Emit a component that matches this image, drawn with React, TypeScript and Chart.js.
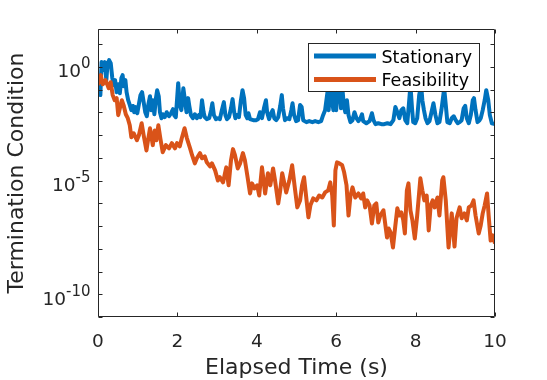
import React, { useEffect, useRef } from 'react';
import Chart from 'chart.js/auto';

// ---- data ----
const seriesNames = ['Stationary', 'Feasibility'];
const xAxisTitle = 'Elapsed Time (s)';
const yAxisTitle = 'Termination Condition';

const xTickValues = [0, 2, 4, 6, 8, 10];
const xTickLabels = ['0', '2', '4', '6', '8', '10'];

const yDecadeTicks = [1e1, 1e0, 1e-1, 1e-2, 1e-3, 1e-4, 1e-5, 1e-6, 1e-7, 1e-8, 1e-9, 1e-10, 1e-11];
const yLabelValues = [1e0, 1e-5, 1e-10];
const yLabelBase = '10';
const yLabelExponents = ['0', '-5', '-10'];

const stationaryTime = [
  0.00, 0.03, 0.06, 0.09, 0.13, 0.17, 0.21, 0.24, 0.28, 0.32,
  0.36, 0.40, 0.43, 0.47, 0.51, 0.55, 0.59, 0.62, 0.65, 0.69,
  0.72, 0.76, 0.80, 0.84, 0.88, 0.91, 0.95, 0.99, 1.03, 1.07,
  1.11, 1.15, 1.19, 1.23, 1.27, 1.31, 1.34, 1.38, 1.42, 1.46,
  1.49, 1.53, 1.56, 1.60, 1.63, 1.68, 1.73, 1.79, 1.84, 1.89,
  1.92, 1.96, 2.02, 2.06, 2.10, 2.15, 2.19, 2.23, 2.27, 2.30,
  2.34, 2.39, 2.44, 2.49, 2.54, 2.58, 2.62, 2.66, 2.69, 2.74,
  2.80, 2.85, 2.88, 2.92, 2.97, 3.02, 3.07, 3.12, 3.17, 3.21,
  3.25, 3.30, 3.35, 3.39, 3.43, 3.46, 3.50, 3.55, 3.60, 3.64,
  3.68, 3.72, 3.76, 3.79, 3.83, 3.91, 3.98, 4.03, 4.08, 4.13,
  4.18, 4.23, 4.26, 4.31, 4.36, 4.40, 4.44, 4.49, 4.54, 4.59,
  4.63, 4.66, 4.71, 4.76, 4.82, 4.87, 4.90, 4.94, 4.99, 5.04,
  5.09, 5.13, 5.17, 5.25, 5.32, 5.40, 5.47, 5.55, 5.62, 5.67,
  5.72, 5.78, 5.81, 5.85, 5.89, 5.93, 5.96, 6.00, 6.04, 6.08,
  6.12, 6.15, 6.19, 6.23, 6.27, 6.31, 6.36, 6.41, 6.46, 6.51,
  6.56, 6.61, 6.65, 6.68, 6.76, 6.84, 6.90, 6.94, 6.99, 7.06,
  7.14, 7.21, 7.29, 7.37, 7.44, 7.49, 7.54, 7.59, 7.64, 7.69,
  7.74, 7.79, 7.83, 7.87, 7.91, 7.94, 7.99, 8.04, 8.09, 8.14,
  8.17, 8.21, 8.25, 8.30, 8.35, 8.40, 8.45, 8.50, 8.55, 8.60,
  8.65, 8.72, 8.76, 8.80, 8.86, 8.91, 8.96, 9.01, 9.06, 9.11,
  9.16, 9.21, 9.25, 9.29, 9.34, 9.39, 9.44, 9.47, 9.51, 9.56,
  9.61, 9.64, 9.69, 9.74, 9.78, 9.83, 9.87, 9.92, 10.00,
];
const stationaryValue = [
  0.094, 0.32, 0.057, 1.61, 0.72, 1.61, 0.26, 1.31, 1.97, 1.46,
  0.32, 0.156, 0.26, 0.077, 0.17, 0.069, 0.32, 0.43, 0.141, 0.26,
  0.077, 0.034, 0.021, 0.0124, 0.019, 0.0101, 0.017, 0.0091, 0.023, 0.057,
  0.077, 0.028, 0.0101, 0.0067, 0.023, 0.051, 0.0124, 0.034, 0.0082, 0.042,
  0.094, 0.051, 0.0101, 0.0055, 0.0082, 0.0061, 0.0101, 0.0067, 0.0091, 0.0137,
  0.0075, 0.0061, 0.19, 0.021, 0.0124, 0.115, 0.034, 0.0101, 0.042, 0.019,
  0.0075, 0.0055, 0.0082, 0.0055, 0.0075, 0.0061, 0.034, 0.0101, 0.0061, 0.0050,
  0.0055, 0.0124, 0.025, 0.0075, 0.0050, 0.0055, 0.0050, 0.0124, 0.028, 0.0075,
  0.0050, 0.0061, 0.015, 0.038, 0.0101, 0.0055, 0.0075, 0.0061, 0.034, 0.094,
  0.042, 0.0075, 0.0055, 0.0091, 0.0050, 0.0045, 0.0045, 0.0050, 0.0101, 0.0055,
  0.015, 0.034, 0.0101, 0.0050, 0.0091, 0.0124, 0.0055, 0.0045, 0.0061, 0.019,
  0.057, 0.015, 0.0045, 0.0055, 0.0050, 0.0124, 0.025, 0.0075, 0.0041, 0.0045,
  0.021, 0.017, 0.0045, 0.0037, 0.0041, 0.0037, 0.0041, 0.0037, 0.0041, 0.0075,
  0.0124, 0.077, 0.0124, 0.156, 0.034, 0.0124, 0.72, 0.0124, 0.43, 0.094,
  0.015, 0.156, 0.021, 0.0101, 0.034, 0.0075, 0.0037, 0.0045, 0.0101, 0.0055,
  0.0041, 0.0055, 0.0082, 0.0041, 0.0033, 0.0041, 0.0091, 0.0045, 0.0030, 0.0033,
  0.0030, 0.0030, 0.0033, 0.0030, 0.0045, 0.017, 0.0101, 0.0055, 0.0124, 0.015,
  0.0045, 0.0033, 0.021, 0.156, 0.015, 0.0037, 0.0033, 0.0055, 0.057, 0.156,
  0.034, 0.0124, 0.0055, 0.0033, 0.0041, 0.0101, 0.025, 0.0075, 0.0033, 0.0037,
  0.0124, 0.115, 0.021, 0.0037, 0.0033, 0.0055, 0.0067, 0.0045, 0.0033, 0.0037,
  0.0045, 0.015, 0.019, 0.0055, 0.0033, 0.0075, 0.034, 0.042, 0.0124, 0.0037,
  0.0045, 0.0055, 0.0124, 0.034, 0.094, 0.034, 0.0075, 0.0033, 0.0030,
];

const feasibilityTime = [
  0.00, 0.04, 0.07, 0.12, 0.19, 0.27, 0.32, 0.37, 0.42, 0.47,
  0.51, 0.55, 0.60, 0.65, 0.70, 0.75, 0.80, 0.84, 0.90, 0.98,
  1.03, 1.10, 1.15, 1.22, 1.26, 1.31, 1.36, 1.38, 1.43, 1.47,
  1.52, 1.57, 1.63, 1.71, 1.79, 1.86, 1.94, 1.99, 2.06, 2.11,
  2.18, 2.24, 2.32, 2.37, 2.44, 2.49, 2.57, 2.62, 2.69, 2.74,
  2.82, 2.87, 2.95, 3.02, 3.07, 3.15, 3.23, 3.29, 3.35, 3.40,
  3.45, 3.52, 3.58, 3.65, 3.70, 3.76, 3.83, 3.88, 3.94, 4.01,
  4.06, 4.13, 4.21, 4.28, 4.34, 4.41, 4.46, 4.54, 4.59, 4.64,
  4.69, 4.74, 4.82, 4.89, 4.95, 5.02, 5.09, 5.14, 5.19, 5.24,
  5.30, 5.35, 5.42, 5.50, 5.57, 5.65, 5.72, 5.80, 5.85, 5.90,
  5.94, 5.98, 6.02, 6.08, 6.15, 6.20, 6.26, 6.31, 6.36, 6.41,
  6.48, 6.56, 6.63, 6.68, 6.73, 6.78, 6.84, 6.90, 6.96, 7.01,
  7.06, 7.11, 7.19, 7.24, 7.28, 7.32, 7.37, 7.43, 7.49, 7.54,
  7.59, 7.64, 7.69, 7.73, 7.78, 7.82, 7.87, 7.92, 7.98, 8.04,
  8.12, 8.17, 8.22, 8.28, 8.33, 8.38, 8.43, 8.48, 8.55, 8.60,
  8.67, 8.70, 8.76, 8.83, 8.91, 8.98, 9.03, 9.11, 9.16, 9.23,
  9.29, 9.34, 9.41, 9.46, 9.51, 9.59, 9.64, 9.69, 9.74, 9.80,
  9.84, 9.89, 9.94, 10.00,
];
const feasibilityValue = [
  0.16, 0.26, 0.43, 0.17, 0.26, 0.115, 0.21, 0.057, 0.034, 0.042,
  0.0075, 0.015, 0.034, 0.019, 0.0082, 0.0055, 0.0027, 8.0e-4, 1.2e-3, 5.9e-4,
  9.8e-4, 3.3e-3, 9.8e-4, 2.1e-4, 5.9e-4, 2.0e-3, 5.9e-4, 3.6e-4, 1.6e-3, 5.9e-4,
  2.7e-3, 7.2e-4, 1.75e-4, 3.6e-4, 2.6e-4, 4.4e-4, 2.6e-4, 4.4e-4, 3.2e-4, 7.2e-4,
  2.0e-3, 7.2e-4, 2.6e-4, 1.3e-4, 5.7e-5, 9.5e-5, 1.6e-4, 9.5e-5, 1.16e-4, 6.3e-5,
  4.2e-5, 5.7e-5, 2.8e-5, 1.0e-5, 1.4e-5, 8.3e-6, 3.8e-5, 6.2e-6, 7.8e-5, 2.4e-4,
  1.3e-4, 3.4e-5, 5.7e-5, 1.6e-4, 7.8e-5, 1.7e-5, 2.7e-6, 7.5e-6, 4.5e-6, 6.2e-6,
  2.2e-6, 3.8e-5, 2.7e-6, 2.1e-5, 6.2e-6, 3.4e-5, 1.0e-5, 9.9e-7, 3.7e-6, 2.1e-5,
  8.3e-6, 3.0e-6, 1.0e-5, 4.7e-5, 6.2e-6, 6.6e-7, 1.34e-6, 6.2e-6, 1.4e-5, 2.2e-6,
  2.4e-7, 8.1e-7, 1.64e-6, 1.34e-6, 2.2e-6, 1.8e-6, 3.0e-6, 3.7e-6, 8.3e-6, 2.2e-6,
  1.06e-7, 2.8e-5, 6.3e-5, 5.7e-5, 4.7e-5, 2.3e-5, 6.2e-6, 2.9e-7, 2.2e-6, 5.0e-6,
  1.8e-6, 2.7e-6, 1.64e-6, 2.7e-6, 6.6e-7, 1.34e-6, 8.1e-7, 1.3e-7, 8.1e-7, 9.9e-7,
  1.44e-7, 2.9e-7, 4.9e-7, 1.06e-7, 3.1e-8, 7.8e-8, 5.2e-8, 1.14e-8, 1.06e-7, 6.0e-7,
  2.9e-7, 4.0e-7, 1.77e-7, 4.7e-8, 3.7e-6, 7.5e-6, 4.9e-7, 1.77e-7, 2.8e-8, 2.9e-7,
  1.25e-5, 3.7e-6, 1.34e-6, 2.2e-6, 6.4e-8, 8.1e-7, 1.34e-6, 6.6e-7, 1.8e-6, 2.9e-7,
  1.0e-5, 1.4e-5, 1.34e-6, 1.14e-8, 3.6e-7, 1.26e-8, 2.2e-7, 6.6e-7, 2.2e-7, 3.6e-7,
  1.77e-7, 6.6e-7, 8.1e-7, 1.34e-6, 2.9e-7, 4.7e-8, 1.06e-7, 3.6e-7, 8.1e-7, 2.7e-6,
  2.9e-7, 2.3e-8, 3.9e-8, 1.7e-8,
];

const seriesColors = ['#0072BD', '#D95319'];
const AXIS_COLOR = '#262626';
const FONT = '"DejaVu Sans", sans-serif';

const toPoints = (t: number[], v: number[]) => {
  const n = Math.min(t.length, v.length);
  const out: { x: number; y: number }[] = [];
  for (let i = 0; i < n; i++) out.push({ x: t[i], y: v[i] });
  return out;
};

const matlabPlugin = {
  id: 'matlabAxes',
  afterDraw(chart: any) {
    const { ctx, chartArea: a, scales } = chart;
    const xs = scales.x;
    const ys = scales.y;
    const L = Math.round(a.left) + 0.5;
    const R = Math.round(a.right) - 0.5;
    const T = Math.round(a.top) + 0.5;
    const B = Math.round(a.bottom) - 0.5;
    const tick = 4;
    ctx.save();
    ctx.strokeStyle = AXIS_COLOR;
    ctx.lineWidth = 1;
    ctx.beginPath();
    ctx.rect(L, T, R - L, B - T);
    for (const v of xTickValues) {
      const px = Math.round(xs.getPixelForValue(v)) + 0.5;
      ctx.moveTo(px, B);
      ctx.lineTo(px, B - tick);
      ctx.moveTo(px, T);
      ctx.lineTo(px, T + tick);
    }
    for (const v of yDecadeTicks) {
      const py = Math.round(ys.getPixelForValue(v)) + 0.5;
      ctx.moveTo(L, py);
      ctx.lineTo(L + tick, py);
      ctx.moveTo(R, py);
      ctx.lineTo(R - tick, py);
    }
    ctx.stroke();

    // x tick labels
    ctx.fillStyle = AXIS_COLOR;
    ctx.font = `18.5px ${FONT}`;
    ctx.textAlign = 'center';
    ctx.textBaseline = 'alphabetic';
    xTickValues.forEach((v, i) => {
      ctx.fillText(xTickLabels[i], xs.getPixelForValue(v), 346.5);
    });

    // y tick labels with superscripts
    yLabelValues.forEach((v, i) => {
      const py = ys.getPixelForValue(v);
      ctx.font = `18.5px ${FONT}`;
      const wBase = ctx.measureText(yLabelBase).width;
      ctx.font = `15px ${FONT}`;
      const wExp = ctx.measureText(yLabelExponents[i]).width;
      const right = 90.5;
      const x0 = right - wExp - wBase;
      ctx.textAlign = 'left';
      ctx.font = `18.5px ${FONT}`;
      ctx.fillText(yLabelBase, x0, py + 10.5);
      ctx.font = `15px ${FONT}`;
      ctx.fillText(yLabelExponents[i], x0 + wBase, py + 1.5);
    });

    // axis titles
    ctx.font = `22px ${FONT}`;
    ctx.textAlign = 'center';
    ctx.fillText(xAxisTitle, (a.left + a.right) / 2, 373.5);
    ctx.save();
    ctx.translate(23, (a.top + a.bottom) / 2);
    ctx.rotate(-Math.PI / 2);
    ctx.fillText(yAxisTitle, 0, 0);
    ctx.restore();

    // legend
    const lx = 308.5, ly = 43.5, lw = 171, lh = 48;
    ctx.fillStyle = '#ffffff';
    ctx.fillRect(lx, ly, lw, lh);
    ctx.strokeStyle = AXIS_COLOR;
    ctx.lineWidth = 1;
    ctx.strokeRect(lx, ly, lw, lh);
    const rows = [56, 79.5];
    seriesNames.forEach((name, i) => {
      ctx.strokeStyle = seriesColors[i];
      ctx.lineWidth = 5;
      ctx.lineCap = 'butt';
      ctx.beginPath();
      ctx.moveTo(314, rows[i]);
      ctx.lineTo(376, rows[i]);
      ctx.stroke();
      ctx.fillStyle = '#000000';
      ctx.font = `17.5px ${FONT}`;
      ctx.textAlign = 'left';
      ctx.fillText(name, 381.5, rows[i] + 6.6);
    });
    ctx.restore();
  },
};

export default function App() {
  const ref = useRef<HTMLCanvasElement>(null);
  useEffect(() => {
    const canvas = ref.current;
    if (!canvas) return;
    const chart = new Chart(canvas, {
      type: 'line',
      data: {
        datasets: [
          {
            label: seriesNames[0],
            data: toPoints(stationaryTime, stationaryValue),
            borderColor: seriesColors[0],
            backgroundColor: seriesColors[0],
            borderWidth: 4,
            pointRadius: 0,
            tension: 0,
            borderJoinStyle: 'round',
            order: 1,
          },
          {
            label: seriesNames[1],
            data: toPoints(feasibilityTime, feasibilityValue),
            borderColor: seriesColors[1],
            backgroundColor: seriesColors[1],
            borderWidth: 4,
            pointRadius: 0,
            tension: 0,
            borderJoinStyle: 'round',
            order: 0,
          },
        ],
      },
      options: {
        animation: false,
        responsive: false,
        devicePixelRatio: 1,
        events: [],
        layout: { padding: { left: 98, right: 52, top: 29, bottom: 63 } },
        plugins: { legend: { display: false }, tooltip: { enabled: false } },
        scales: {
          x: { type: 'linear', min: 0, max: 10, display: false },
          y: { type: 'logarithmic', min: 1e-11, max: 46, display: false },
        },
      } as any,
      plugins: [matlabPlugin],
    });
    return () => chart.destroy();
  }, []);
  return (
    <div style={{ position: 'absolute', left: 0, top: 0, width: 547, height: 380, background: '#ffffff' }}>
      <canvas ref={ref} width={547} height={380} style={{ display: 'block', width: 547, height: 380 }} />
    </div>
  );
}
